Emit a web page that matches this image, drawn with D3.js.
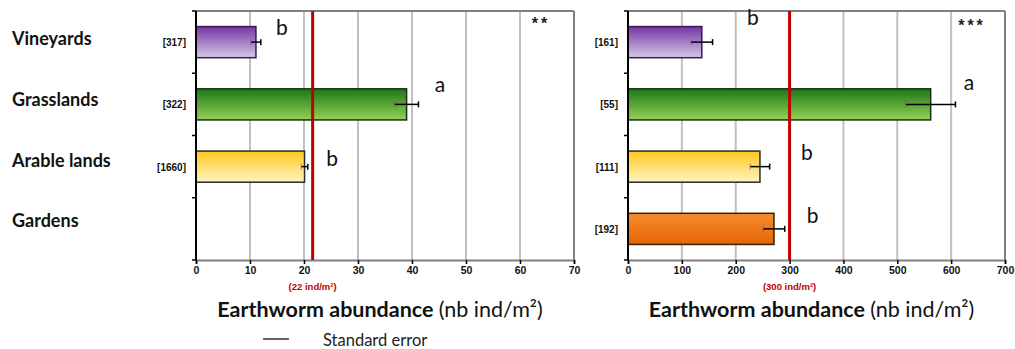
<!DOCTYPE html>
<html>
<head>
  <meta charset="utf-8">
  <title>Earthworm abundance by land use</title>
  <script src="https://cdn.jsdelivr.net/npm/d3@7"></script>
  <style>
    body { margin: 0; background: #fff; }
    svg { display: block; }
    .cat { font-family: Lato, sans-serif; font-weight: bold; font-size: 18px; fill: #111; }
    .nlab { font-family: "Liberation Sans", Arial, sans-serif; font-weight: bold; font-size: 10px; fill: #111; }
    .tick text { font-family: "Liberation Sans", Arial, sans-serif; font-weight: bold; font-size: 10.5px; fill: #111; }
    .ref { font-family: "Liberation Sans", Arial, sans-serif; font-weight: bold; font-size: 9.5px; fill: #c00000; }
    .title { font-family: Lato, sans-serif; font-size: 21.5px; fill: #111; }
    .letter { font-family: Lato, sans-serif; font-size: 21px; fill: #111; }
    .stars { font-family: "Liberation Sans", Arial, sans-serif; font-weight: bold; font-size: 16px; fill: #222; letter-spacing: 3px; }
    .legend { font-family: Lato, sans-serif; font-size: 16.5px; fill: #222; }
  </style>
</head>
<body>
<svg id="chart" width="1015" height="349"></svg>
<script>
// categories
var categories = ["Vineyards", "Grasslands", "Arable lands", "Gardens"];

// left panel: mean abundance, standard error, sample size, letters
var leftMeans = [11.1, 39.0, 20.1, null];
var leftSE = [0.9, 2.2, 0.6, null];
var leftN = ["[317]", "[322]", "[1660]", null];
var leftLetters = ["b", "a", "b", null];
var leftLetterAt = [15.9, 45.2, 25.2, null];
var leftRef = 21.6;
var leftRefLabel = "(22 ind/m²)";
var leftTicks = [0, 10, 20, 30, 40, 50, 60, 70];
var leftStars = "**";

// right panel
var rightMeans = [137, 562, 245, 271];
var rightSE = [20, 46, 18, 20];
var rightN = ["[161]", "[55]", "[111]", "[192]"];
var rightLetters = ["b", "a", "b", "b"];
var rightLetterAt = [232, 633, 332, 343];
var rightRef = 300;
var rightRefLabel = "(300 ind/m²)";
var rightTicks = [0, 100, 200, 300, 400, 500, 600, 700];
var rightStars = "***";

// vertical nudges of the letters (px, relative to band centre)
var leftLetterDy = [-7, -12, -1, 0];
var rightLetterDy = [-17, -14, -7, -6];

var fills = [
  ["#7434a4", "#d6c9e6"],
  ["#1e761a", "#94d254"],
  ["#ffc71c", "#fff3c4"],
  ["#f78c2c", "#e2660a"]
];
var strokes = ["#3a1a55", "#143210", "#2a2a2a", "#3a2000"];

var svg = d3.select("#chart");
var defs = svg.append("defs");
fills.forEach(function (f, i) {
  var g = defs.append("linearGradient").attr("id", "grad" + i)
    .attr("x1", 0).attr("y1", 0).attr("x2", 0).attr("y2", 1);
  g.append("stop").attr("offset", "0%").attr("stop-color", f[0]);
  g.append("stop").attr("offset", "100%").attr("stop-color", f[1]);
});

var plotTop = 11, plotBottom = 260;

var y = d3.scaleBand().domain(categories).range([plotTop, plotBottom])
  .paddingInner(0.5).paddingOuter(0.25);

function panel(opt) {
  var x = d3.scaleLinear().domain([0, opt.max]).range([opt.x0, opt.x1]);
  var g = svg.append("g");

  // grid lines
  g.selectAll("line.grid").data(opt.ticks.slice(1)).enter().append("line")
    .attr("x1", d => x(d)).attr("x2", d => x(d))
    .attr("y1", plotTop).attr("y2", plotBottom)
    .attr("stroke", d => d === opt.max ? "#808080" : "#c0c0c0")
    .attr("stroke-width", 2);
  // top border
  g.append("line").attr("x1", x(0)).attr("x2", x(opt.max))
    .attr("y1", plotTop).attr("y2", plotTop)
    .attr("stroke", "#808080").attr("stroke-width", 2);

  // bottom axis
  var ax = g.append("g").attr("transform", "translate(0," + plotBottom + ")")
    .call(d3.axisBottom(x).tickValues(opt.ticks).tickSize(4).tickPadding(3));
  ax.select(".domain").attr("stroke", "#808080").attr("stroke-width", 2);
  ax.selectAll(".tick line").attr("stroke", "#000").attr("stroke-width", 1.5);

  // bars
  var rows = categories.map(function (c, i) {
    return { cat: c, i: i, v: opt.means[i], se: opt.se[i], n: opt.n[i],
             letter: opt.letters[i], at: opt.letterAt[i], dy: opt.letterDy[i] };
  });
  var present = rows.filter(r => r.v !== null);

  g.selectAll("rect.bar").data(present).enter().append("rect")
    .attr("x", x(0)).attr("y", d => y(d.cat))
    .attr("width", d => x(d.v) - x(0)).attr("height", y.bandwidth())
    .attr("fill", d => "url(#grad" + d.i + ")")
    .attr("stroke", d => strokes[d.i]).attr("stroke-width", 1.5);

  // error bars
  var mid = d => y(d.cat) + y.bandwidth() / 2;
  var eb = g.selectAll("g.err").data(present).enter().append("g");
  eb.append("line")
    .attr("x1", d => x(d.v - d.se)).attr("x2", d => x(d.v + d.se))
    .attr("y1", mid).attr("y2", mid)
    .attr("stroke", "#000").attr("stroke-width", 1.5);
  eb.append("line")
    .attr("x1", d => x(d.v + d.se)).attr("x2", d => x(d.v + d.se))
    .attr("y1", d => mid(d) - 3).attr("y2", d => mid(d) + 3)
    .attr("stroke", "#000").attr("stroke-width", 1.5);
  eb.append("line")
    .attr("x1", d => x(d.v - d.se)).attr("x2", d => x(d.v - d.se))
    .attr("y1", d => mid(d) - 3).attr("y2", d => mid(d) + 3)
    .attr("stroke", "#555").attr("stroke-width", 1).attr("opacity", 0.6);

  // left axis
  g.append("line").attr("x1", x(0)).attr("x2", x(0))
    .attr("y1", plotTop).attr("y2", plotBottom)
    .attr("stroke", "#000").attr("stroke-width", 2);
  var bounds = categories.map(c => y(c) - y.step() * y.paddingInner() / 2);
  bounds[0] = plotTop;
  bounds.push(plotBottom);
  g.selectAll("line.ytick").data(bounds).enter().append("line")
    .attr("x1", x(0) - 4).attr("x2", x(0))
    .attr("y1", d => d).attr("y2", d => d)
    .attr("stroke", "#000").attr("stroke-width", 1.5);

  // reference line
  g.append("line").attr("x1", x(opt.ref)).attr("x2", x(opt.ref))
    .attr("y1", plotTop).attr("y2", plotBottom)
    .attr("stroke", "#c00000").attr("stroke-width", 3);
  g.append("text").attr("class", "ref")
    .attr("x", x(opt.ref)).attr("y", 290).attr("text-anchor", "middle")
    .text(opt.refLabel);

  // sample sizes
  g.selectAll("text.nlab").data(present).enter().append("text")
    .attr("class", "nlab")
    .attr("x", x(0) - 10).attr("y", d => mid(d) + 4)
    .attr("text-anchor", "end")
    .text(d => d.n);

  // letters
  g.selectAll("text.letter").data(present).enter().append("text")
    .attr("class", "letter")
    .attr("x", d => x(d.at)).attr("y", d => mid(d) + d.dy)
    .attr("text-anchor", "middle")
    .text(d => d.letter);

  g.append("text").attr("class", "stars")
    .attr("x", opt.starsX).attr("y", opt.starsY).attr("text-anchor", "middle")
    .text(opt.stars);

  // axis title
  var t = g.append("text").attr("class", "title")
    .attr("x", (x(0) + x(opt.max)) / 2 - 5).attr("y", 317)
    .attr("text-anchor", "middle");
  t.append("tspan").attr("font-weight", "bold").text("Earthworm abundance ");
  t.append("tspan").text("(nb ind/m²)");
}

panel({ x0: 196, x1: 574, max: 70, ticks: leftTicks, means: leftMeans, se: leftSE,
        n: leftN, letters: leftLetters, letterAt: leftLetterAt, letterDy: leftLetterDy,
        ref: leftRef, refLabel: leftRefLabel, stars: leftStars, starsX: 541, starsY: 29 });
panel({ x0: 628, x1: 1005, max: 700, ticks: rightTicks, means: rightMeans, se: rightSE,
        n: rightN, letters: rightLetters, letterAt: rightLetterAt, letterDy: rightLetterDy,
        ref: rightRef, refLabel: rightRefLabel, stars: rightStars, starsX: 972, starsY: 31 });

// category labels
svg.selectAll("text.cat").data(categories).enter().append("text")
  .attr("class", "cat")
  .attr("x", 12)
  .attr("y", (d, i) => y(d) + y.bandwidth() / 2 + 3 - i * 1.5)
  .text(d => d);

// legend
svg.append("line").attr("x1", 263).attr("x2", 289).attr("y1", 339).attr("y2", 339)
  .attr("stroke", "#000").attr("stroke-width", 1.2);
svg.append("text").attr("class", "legend").attr("x", 323).attr("y", 346).text("Standard error");
</script>
</body>
</html>
